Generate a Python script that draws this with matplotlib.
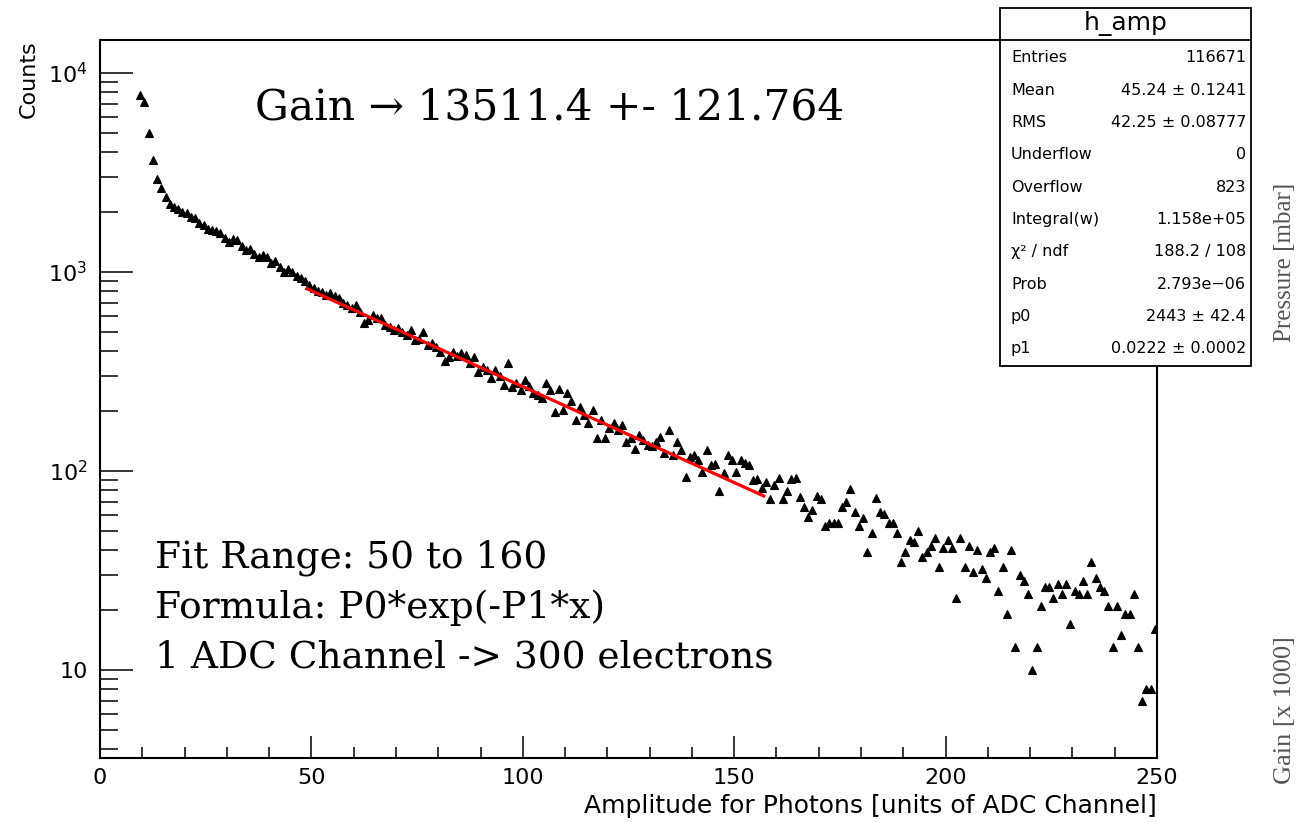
import numpy as np
import matplotlib
matplotlib.use("Agg")
import matplotlib.pyplot as plt
from matplotlib.ticker import (MultipleLocator, FixedLocator, LogLocator,
                               FuncFormatter, NullFormatter)
from matplotlib.patches import Rectangle
from matplotlib.lines import Line2D

# ---- histogram h_amp: 1 ADC channel per bin, first filled bin starts at 9 ----
bin_width = 1.0
first_bin_low = 9.0
counts = [
    # 9 .. 49
    7770, 7170, 4980, 3640, 2940, 2650, 2390, 2200, 2130, 2080, 2000, 1980,
    1900, 1870, 1770, 1720, 1650, 1630, 1600, 1570, 1480, 1420, 1470, 1450,
    1350, 1290, 1300, 1230, 1190, 1220, 1190, 1110, 1140, 1060, 1000, 1030,
    1000, 960, 934, 900, 861,
    # 50 .. 100
    830, 800, 796, 770, 780, 753, 737, 700, 685, 660, 685, 632, 557, 574,
    609, 590, 585, 542, 530, 511, 520, 500, 480, 511, 455, 460, 500, 430,
    440, 422, 398, 355, 376, 395, 380, 390, 383, 350, 376, 316, 334, 320,
    293, 322, 300, 271, 348, 264, 278, 255, 287,
    # 101 .. 155
    266, 246, 241, 232, 276, 255, 199, 259, 203, 246, 224, 181, 210, 191,
    175, 203, 146, 180, 146, 165, 174, 161, 170, 140, 146, 129, 152, 143,
    135, 133, 140, 149, 123, 161, 120, 140, 128, 93, 118, 120, 114, 99,
    127, 107, 108, 79, 98, 120, 114, 99, 114, 110, 107, 90, 91,
    # 156 .. 159
    82, 88, 72, 85,
    # 160 .. 249
    92, 72, 79, 91, 92, 74, 66, 59, 64, 75, 72, 53, 55, 55, 55, 66, 70, 81,
    62, 53, 58, 39, 49, 73, 62, 61, 55, 55, 49, 35, 39, 45, 44, 50, 37, 39,
    42, 46, 33, 41, 45, 41, 23, 46, 33, 42, 31, 40, 32, 29, 39, 41, 25, 33,
    19, 40, 13, 30, 28, 24, 10, 13, 21, 26, 26, 23, 27, 24, 27, 17, 25, 24,
    28, 24, 35, 29, 26, 25, 21, 13, 21, 15, 19, 19, 24, 13, 7, 8, 8, 16,
]

# ---- exponential fit  p0 * exp(-p1 * x) ----
p0 = 2443.0
p1 = 0.0222
curve_start, curve_end = 49.0, 157.0

# ---- statistics box ----
stats_title = "h_amp"
stats_labels = ["Entries", "Mean", "RMS", "Underflow", "Overflow",
                "Integral(w)", "\u03c7\u00b2 / ndf", "Prob", "p0", "p1"]
stats_values = ["116671", "45.24 \u00b1 0.1241", "42.25 \u00b1 0.08777", "0",
                "823", "1.158e+05", "188.2 / 108", "2.793e\u221206",
                "2443 \u00b1 42.4", "0.0222 \u00b1 0.0002"]

plt.rcParams["font.family"] = ["DejaVu Sans"]

W, H = 1299, 823
fig = plt.figure(figsize=(W / 100, H / 100), dpi=100)
fig.patch.set_facecolor("white")


def fx(px):
    return px / W


def fy(py):
    return 1 - py / H


ax = fig.add_axes([fx(100), fy(758), fx(1157) - fx(100), fy(40) - fy(758)])

centers = first_bin_low + bin_width * (np.arange(len(counts)) + 0.5)
ax.plot(centers, counts, linestyle="none", marker="^", ms=6.4,
        color="black", mec="black", mew=0.8, zorder=3)

xf = np.linspace(curve_start, curve_end, 200)
ax.plot(xf, p0 * np.exp(-p1 * xf), color="#ff0000", lw=2.3, zorder=4)

ax.set_yscale("log")
ax.set_xlim(0, 250)
ax.set_ylim(3.61, 14650)

ax.xaxis.set_major_locator(MultipleLocator(50))
ax.xaxis.set_minor_locator(MultipleLocator(10))
ax.yaxis.set_major_locator(FixedLocator([10, 100, 1000, 10000]))
ax.yaxis.set_minor_locator(LogLocator(base=10, subs=np.arange(2, 10)))
ax.yaxis.set_minor_formatter(NullFormatter())


def ylab(v, pos):
    n = int(round(np.log10(v)))
    return "10" if n == 1 else r"$10^{%d}$" % n


ax.yaxis.set_major_formatter(FuncFormatter(ylab))

ax.tick_params(which="both", direction="in", top=False, right=False,
               color="black", width=1.1)
ax.tick_params(axis="y", which="major", length=23.8, labelsize=16, pad=9)
ax.tick_params(axis="y", which="minor", length=13)
ax.tick_params(axis="x", which="major", length=15.8, labelsize=16, pad=7)
ax.tick_params(axis="x", which="minor", length=7.9)
for s in ax.spines.values():
    s.set_linewidth(1.5)

# axis titles
fig.text(fx(1157), fy(806), "Amplitude for Photons [units of ADC Channel]",
         ha="right", va="center", fontsize=18)
fig.text(fx(29), fy(40), "Counts", rotation=90, ha="center", va="top",
         fontsize=16)

# annotations
fig.text(fx(255), fy(120), "Gain \u2192 13511.4 +- 121.764",
         family="DejaVu Serif", fontsize=30.5, ha="left", va="baseline")
notes = ["Fit Range: 50 to 160", "Formula: P0*exp(-P1*x)",
         "1 ADC Channel -> 300 electrons"]
for i, line in enumerate(notes):
    fig.text(fx(155), fy(568 + 50 * i), line, family="DejaVu Serif",
             fontsize=27, ha="left", va="baseline")

# side labels
fig.text(fx(1285), fy(262), "Pressure [mbar]", rotation=90, ha="center",
         va="center", family="Liberation Serif", fontsize=18, color="#555555")
fig.text(fx(1285), fy(710), "Gain [x 1000]", rotation=90, ha="center",
         va="center", family="Liberation Serif", fontsize=19, color="#555555")

# statistics box
bx0, bx1, by0, by1 = 1000, 1251, 8, 366
fig.add_artist(Rectangle((fx(bx0), fy(by1)), fx(bx1) - fx(bx0),
                         fy(by0) - fy(by1), transform=fig.transFigure,
                         facecolor="white", edgecolor="black", lw=1.3,
                         zorder=5))
fig.add_artist(Line2D([fx(bx0), fx(bx1)], [fy(40), fy(40)],
                      transform=fig.transFigure, color="black", lw=1.3,
                      zorder=6))
fig.text(fx((bx0 + bx1) / 2), fy(23), stats_title, ha="center", va="center",
         fontsize=18, zorder=7)
for i, (lab, val) in enumerate(zip(stats_labels, stats_values)):
    yy = fy(58 + 32.3 * i)
    fig.text(fx(1011), yy, lab, ha="left", va="center", fontsize=11.5,
             zorder=7)
    fig.text(fx(1246), yy, val, ha="right", va="center", fontsize=11.5,
             zorder=7)

fig.savefig("out.png", dpi=100, facecolor="white")
